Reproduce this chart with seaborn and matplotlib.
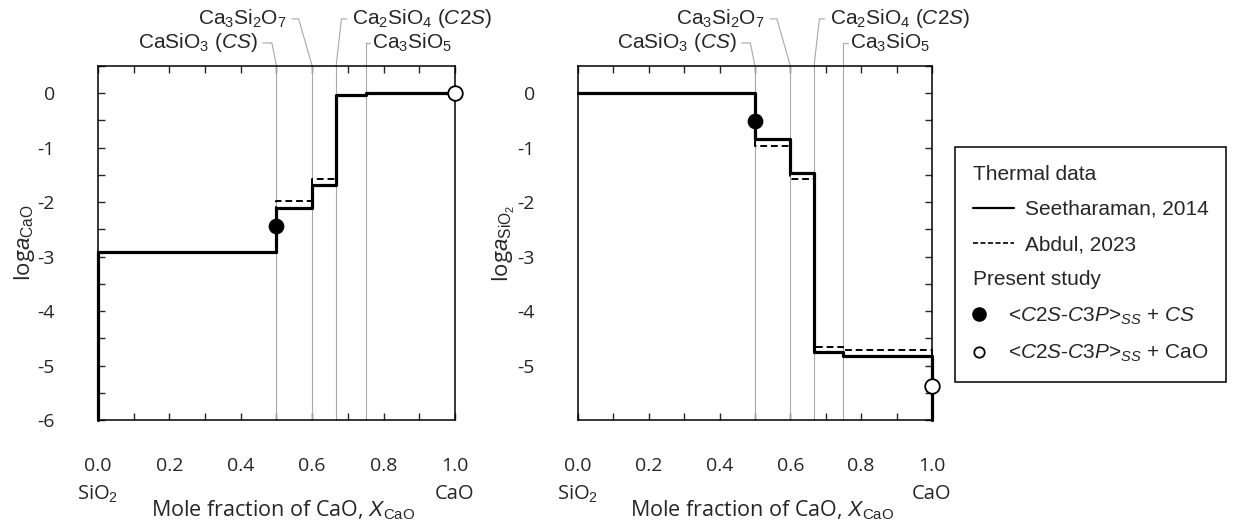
import matplotlib
matplotlib.use("Agg")
import matplotlib.pyplot as plt
from matplotlib.lines import Line2D
from matplotlib.legend_handler import HandlerLine2D
from matplotlib.ticker import MultipleLocator
import seaborn as sns

# phase boundaries (mole fraction of CaO)
phase_x = [0.5, 0.6, 0.667, 0.75]
phase_names = [r'CaSiO$_3$ ($\it{CS}$)', r'Ca$_3$Si$_2$O$_7$',
               r'Ca$_2$SiO$_4$ ($\it{C2S}$)', r'Ca$_3$SiO$_5$']

# log a_CaO, step data (steps-post)
cao_x = [0.0, 0.0, 0.5, 0.6, 0.667, 0.75, 1.0]
cao_seeth = [-6.0, -2.92, -2.1, -1.69, -0.03, 0.0, 0.0]
cao_abdul = [-6.0, -2.92, -1.98, -1.58, -0.03, 0.0, 0.0]

# log a_SiO2, step data (steps-post)
sio2_x = [0.0, 0.5, 0.6, 0.667, 0.75, 1.0, 1.0]
sio2_seeth = [0.0, -0.85, -1.46, -4.75, -4.82, -4.82, -6.0]
sio2_abdul = [0.0, -0.97, -1.57, -4.66, -4.72, -4.72, -6.0]

# present study
cs_x = [0.5]
cs_cao = [-2.43]
cs_sio2 = [-0.51]
lime_x = [1.0]
lime_cao = [0.0]
lime_sio2 = [-5.37]

xtick_vals = [0.0, 0.2, 0.4, 0.6, 0.8, 1.0]
xtick_labels = ['0.0', '0.2', '0.4', '0.6', '0.8', '1.0']

sns.set_style("white")
plt.rcParams['font.family'] = ['Liberation Sans', 'DejaVu Sans']
plt.rcParams['mathtext.fontset'] = 'custom'
plt.rcParams['mathtext.rm'] = 'Liberation Sans'
plt.rcParams['mathtext.it'] = 'Liberation Sans:italic'
plt.rcParams['mathtext.bf'] = 'Liberation Sans:bold'
plt.rcParams['axes.unicode_minus'] = False

TICK_FONT = 'Open Sans'

fig = plt.figure(figsize=(12.36, 5.21), dpi=100)
ax1 = fig.add_axes([0.0793, 0.1939, 0.2888, 0.6795])
ax2 = fig.add_axes([0.4676, 0.1939, 0.2864, 0.6795])


class LeftMarkerHandler(HandlerLine2D):
    # put the single legend marker near the left of the handle box
    def get_xdata(self, legend, xdescent, ydescent, width, height, fontsize):
        xdata = [-xdescent, -xdescent + 0.3 * width]
        return xdata, [-xdescent + 0.15 * width]


def draw_panel(ax, x, seeth, abdul, pts_cs, pts_lime, ylabel, right_ticks):
    for xv in phase_x:
        ax.axvline(xv, color='#a8a8a8', lw=0.8, zorder=1)

    sns.lineplot(x=x, y=seeth, ax=ax, estimator=None, sort=False,
                 drawstyle='steps-post', color='black', lw=2.3, zorder=3)
    sns.lineplot(x=x, y=abdul, ax=ax, estimator=None, sort=False,
                 drawstyle='steps-post', color='black', lw=1.4,
                 linestyle=(0, (3.5, 2)), zorder=2)
    for ln in ax.get_lines():
        ln.set_clip_on(False)

    sns.scatterplot(x=cs_x, y=pts_cs, ax=ax, s=110, color='black',
                    edgecolor='black', zorder=5, clip_on=False)
    sns.scatterplot(x=lime_x, y=pts_lime, ax=ax, s=110, color='white',
                    edgecolor='black', linewidth=1.3, zorder=5, clip_on=False)

    ax.set_xlim(0, 1)
    ax.set_ylim(-6, 0.5)
    ax.set_xticks(xtick_vals)
    ax.set_xticklabels(xtick_labels)
    ax.xaxis.set_minor_locator(MultipleLocator(0.1))
    if right_ticks:
        ax.set_yticks(range(-5, 1))
    else:
        ax.set_yticks(range(-6, 1))
    ax.yaxis.set_minor_locator(MultipleLocator(0.5))

    ax.tick_params(axis='x', which='both', direction='in', top=True, bottom=True,
                   length=5, width=1, pad=27, labelsize=14)
    ax.tick_params(axis='y', which='both', direction='in', left=not right_ticks,
                   right=right_ticks, labelleft=True, length=5, width=1,
                   pad=31, labelsize=14)
    for lab in ax.get_xticklabels() + ax.get_yticklabels():
        lab.set_fontfamily(TICK_FONT)
    for sp in ax.spines.values():
        sp.set_color('black')
        sp.set_linewidth(1.1)

    ax.set_xlabel('')
    ax.set_ylabel(ylabel, fontsize=16, family=TICK_FONT)
    ax.yaxis.set_label_coords(-0.172, 0.5)

    xt = ax.get_xaxis_transform()
    ax.text(0.0, -0.21, r'SiO$_2$', transform=xt, ha='center', va='center',
            fontsize=14.5, family=TICK_FONT)
    ax.text(1.0, -0.21, 'CaO', transform=xt, ha='center', va='center',
            fontsize=14.5, family=TICK_FONT)
    ax.text(0.52, -0.255, r'Mole fraction of CaO, $\it{X}$$_{\rm CaO}$', transform=xt,
            ha='center', va='center', fontsize=15.5, family=TICK_FONT)

    # phase labels with leader lines
    leaders = [
        ([0.462, 0.487, 0.5], [1.065, 1.065, 1.0], 0.448, 1.065, 'right'),
        ([0.543, 0.562, 0.6], [1.133, 1.133, 1.0], 0.529, 1.133, 'right'),
        ([0.697, 0.682, 0.667], [1.133, 1.133, 1.0], 0.711, 1.133, 'left'),
        ([0.762, 0.75, 0.75], [1.065, 1.065, 1.0], 0.768, 1.065, 'left'),
    ]
    for name, (lx, ly, tx, ty, ha) in zip(phase_names, leaders):
        ax.plot(lx, ly, color='#a8a8a8', lw=0.8, transform=ax.transAxes,
                clip_on=False)
        ax.text(tx, ty, name, transform=ax.transAxes, ha=ha, va='center',
                fontsize=15)


draw_panel(ax1, cao_x, cao_seeth, cao_abdul, cs_cao, lime_cao,
           r'log$\it{a}$$_{\rm CaO}$', right_ticks=False)
draw_panel(ax2, sio2_x, sio2_seeth, sio2_abdul, cs_sio2, lime_sio2,
           r'log$\it{a}$$_{\rm SiO_2}$', right_ticks=True)

blank = Line2D([], [], color='none')
h_seeth = Line2D([], [], color='black', lw=1.6)
h_abdul = Line2D([], [], color='black', lw=1.2, linestyle=(0, (3, 1.5)))
h_cs = Line2D([], [], color='black', marker='o', markersize=9.5, linestyle='none')
h_lime = Line2D([], [], color='black', marker='o', markersize=7.5,
                markerfacecolor='white', markeredgewidth=1.3, linestyle='none')
handles = [blank, h_seeth, h_abdul, blank, h_cs, h_lime]
labels = ['Thermal data', 'Seetharaman, 2014', 'Abdul, 2023', 'Present study',
          r'<$\it{C2S}$-$\it{C3P}$>$_{\it{SS}}$ + $\it{CS}$',
          r'<$\it{C2S}$-$\it{C3P}$>$_{\it{SS}}$ + CaO']
leg = fig.legend(handles, labels, loc='upper left', bbox_to_anchor=(0.7727, 0.718),
                 frameon=True, fancybox=False, edgecolor='black', framealpha=1,
                 fontsize=15, handlelength=2.0, handletextpad=0.5, labelspacing=0.78,
                 borderpad=0.85, borderaxespad=0,
                 handler_map={h_cs: LeftMarkerHandler(), h_lime: LeftMarkerHandler()})
leg.get_frame().set_linewidth(1.1)

rows = [item for col in leg._legend_handle_box.get_children()
        for item in col.get_children()]
for i, item in enumerate(rows):
    da = item.get_children()[0]
    if i in (0, 3):
        da.width = 0
        item.sep = 0
    elif i in (4, 5):
        da.width = da.width * 0.6

fig.savefig('out.png', dpi=100)
